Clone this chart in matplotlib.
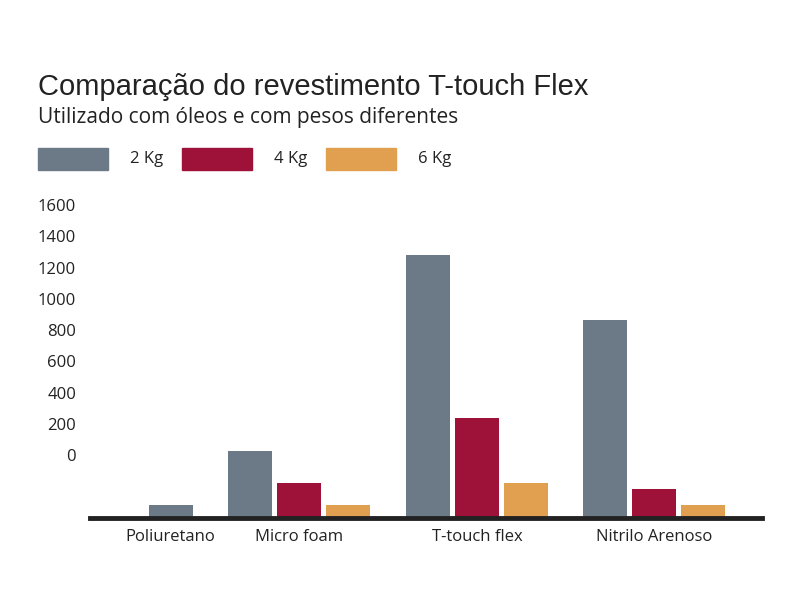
import matplotlib.pyplot as plt
from matplotlib.patches import Rectangle

# Data (values read on the chart's own y scale; bars rise from a baseline below 0)
categories = ["Poliuretano", "Micro foam", "T-touch flex", "Nitrilo Arenoso"]
series_names = ["2 Kg", "4 Kg", "6 Kg"]
kg2 = [-320, 26, 1280, 864]
kg4 = [None, -179, 237, -218]
kg6 = [None, -320, -179, -320]
y_ticks = [0, 200, 400, 600, 800, 1000, 1200, 1400, 1600]

BASELINE = -403
colors = ["#6b7a86", "#9e1239", "#e0a04f"]
centers = [122, 299, 477, 654]
label_pos = [170, 299, 477, 654]
offsets_2kg = [49, -49, -49, -49]
width = 44

body_font = "Open Sans"

fig = plt.figure(figsize=(8, 6), dpi=100)
ax = fig.add_axes([90 / 800, 1 - 518 / 600, 672 / 800, 323 / 600])

for i, c in enumerate(centers):
    ax.bar(c + offsets_2kg[i], kg2[i] - BASELINE, width, bottom=BASELINE, color=colors[0])
    if kg4[i] is not None:
        ax.bar(c, kg4[i] - BASELINE, width, bottom=BASELINE, color=colors[1])
    if kg6[i] is not None:
        ax.bar(c + 49, kg6[i] - BASELINE, width, bottom=BASELINE, color=colors[2])

ax.set_xlim(90, 762)
ax.set_ylim(BASELINE, 1664)
for s in ["top", "right", "left"]:
    ax.spines[s].set_visible(False)
ax.spines["bottom"].set_linewidth(3.5)
ax.spines["bottom"].set_color("#222222")
ax.set_xticks(label_pos)
ax.set_xticklabels(categories, fontsize=12, family=body_font, color="#222222")
ax.tick_params(axis="x", length=0, pad=8)
ax.set_yticks(y_ticks)
ax.set_yticklabels([str(v) for v in y_ticks], fontsize=12, family=body_font, color="#222222")
ax.tick_params(axis="y", length=0, pad=10)

fig.text(38 / 800, 1 - 87 / 600, "Comparação do revestimento T-touch Flex",
         fontsize=21, fontweight="medium", family="Liberation Sans", color="#222222", va="center")
fig.text(38 / 800, 1 - 118 / 600, "Utilizado com óleos e com pesos diferentes",
         fontsize=15, family=body_font, color="#222222", va="center")

leg_x = [38, 182, 326]
for x, name, col in zip(leg_x, series_names, colors):
    fig.patches.append(Rectangle((x / 800, 1 - 170 / 600), 70 / 800, 22 / 600,
                                 transform=fig.transFigure, color=col))
    fig.text((x + 92) / 800, 1 - 159 / 600, name, fontsize=12, family=body_font,
             color="#222222", va="center")

fig.savefig("out.png", dpi=100)
